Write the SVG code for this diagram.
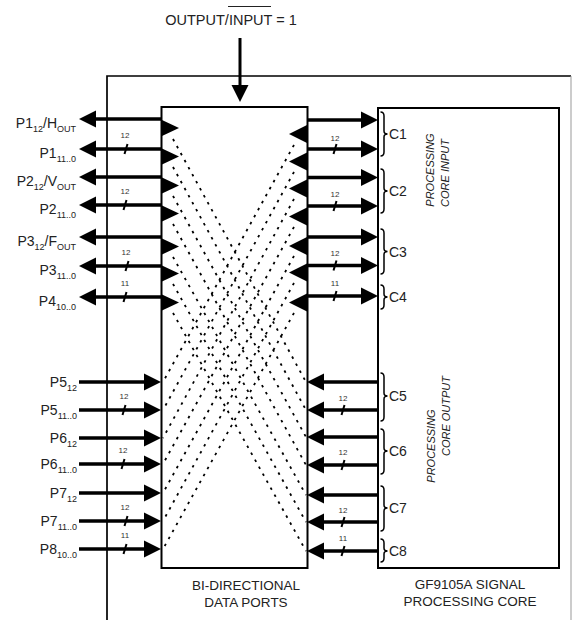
<svg xmlns="http://www.w3.org/2000/svg" width="572" height="620" viewBox="0 0 572 620">
<defs>
<style>
.ln{stroke:#000;stroke-width:3.5;fill:none}
.hd{fill:#000}
.box{fill:none;stroke:#000;stroke-width:2}
.fr{fill:none;stroke:#000;stroke-width:1.7}
.dot{stroke:#000;stroke-width:1.8;stroke-dasharray:2.5 5.5;fill:none}
.sl{stroke:#000;stroke-width:2}
.br{fill:none;stroke:#000;stroke-width:1.5}
.t{font-family:"Liberation Sans",Arial,Helvetica,sans-serif;font-size:14px;fill:#222}
.s{font-size:9px}
.bw{font-family:"Liberation Sans",Arial,Helvetica,sans-serif;font-size:8px;fill:#333;text-anchor:middle}
.v{font-family:"Liberation Sans",Arial,Helvetica,sans-serif;font-size:11px;font-style:italic;fill:#222;text-anchor:middle}
.c{text-anchor:middle}
.e{text-anchor:end}
</style>
</defs>
<rect width="572" height="620" fill="#fff"/>

<g id="frame">
<path class="fr" d="M107 620 V76 H571"/>
<line x1="571" y1="76" x2="571" y2="620" stroke="#999" stroke-width="1"/>
</g>

<g id="title">
<text class="t" x="231" y="25" style="font-size:14.5px" text-anchor="middle">OUTPUT/INPUT = 1</text>
<line x1="228" y1="6.5" x2="271" y2="6.5" stroke="#222" stroke-width="1"/>
</g>

<g id="ports">
<rect class="box" x="161.5" y="107" width="146" height="461"/>
<text class="t c" x="246" y="590" style="font-size:13.5px">BI-DIRECTIONAL</text>
<text class="t c" x="246" y="607" style="font-size:13.5px">DATA PORTS</text>
</g>

<g id="core">
<rect class="box" x="378" y="108" width="181" height="460"/>
<text class="t c" x="470" y="589" style="font-size:13.5px">GF9105A SIGNAL</text>
<text class="t c" x="470" y="606" style="font-size:13.5px">PROCESSING CORE</text>
<text class="v" transform="translate(434,170) rotate(-90)">PROCESSING</text>
<text class="v" transform="translate(448.5,173) rotate(-90)">CORE INPUT</text>
<text class="v" transform="translate(435,446) rotate(-90)">PROCESSING</text>
<text class="v" transform="translate(449.5,416) rotate(-90)">CORE OUTPUT</text>
</g>

<g id="braces">
<path class="br" d="M380.5 112 Q384 112 384 116 V131 Q384 134 387.5 134 Q384 134 384 137 V152 Q384 156 380.5 156"/>
<path class="br" d="M380.5 169 Q384 169 384 173 V188 Q384 191 387.5 191 Q384 191 384 194 V209 Q384 213 380.5 213"/>
<path class="br" d="M380.5 229 Q384 229 384 233 V248.5 Q384 251.5 387.5 251.5 Q384 251.5 384 254.5 V270 Q384 274 380.5 274"/>
<path class="br" d="M380.5 285 Q384 285 384 289 V294 Q384 297 387.5 297 Q384 297 384 300 V305 Q384 309 380.5 309"/>
<path class="br" d="M380.5 373 Q384 373 384 377 V393 Q384 396 387.5 396 Q384 396 384 399 V417 Q384 421 380.5 421"/>
<path class="br" d="M380.5 429 Q384 429 384 433 V448 Q384 451 387.5 451 Q384 451 384 454 V470 Q384 474 380.5 474"/>
<path class="br" d="M380.5 486 Q384 486 384 490 V505 Q384 508 387.5 508 Q384 508 384 511 V527 Q384 531 380.5 531"/>
<path class="br" d="M380.5 539 Q384 539 384 543 V548 Q384 551 387.5 551 Q384 551 384 554 V558 Q384 562 380.5 562"/>
<text class="t" x="389" y="139">C1</text>
<text class="t" x="389" y="196">C2</text>
<text class="t" x="389" y="256.5">C3</text>
<text class="t" x="389" y="302">C4</text>
<text class="t" x="389" y="401">C5</text>
<text class="t" x="389" y="456">C6</text>
<text class="t" x="389" y="513">C7</text>
<text class="t" x="389" y="556">C8</text>
</g>

<g id="labels">
<text class="t e" x="76" y="128">P1<tspan class="s" dy="4">12</tspan><tspan dy="-4">/H</tspan><tspan class="s" dy="4">OUT</tspan></text>
<text class="t e" x="76" y="157.5">P1<tspan class="s" dy="4.5">11..0</tspan></text>
<text class="t e" x="76" y="186">P2<tspan class="s" dy="4">12</tspan><tspan dy="-4">/V</tspan><tspan class="s" dy="4">OUT</tspan></text>
<text class="t e" x="76" y="213.5">P2<tspan class="s" dy="4.5">11..0</tspan></text>
<text class="t e" x="76" y="245.5">P3<tspan class="s" dy="4">12</tspan><tspan dy="-4">/F</tspan><tspan class="s" dy="4">OUT</tspan></text>
<text class="t e" x="76" y="274.5">P3<tspan class="s" dy="4.5">11..0</tspan></text>
<text class="t e" x="76" y="305.5">P4<tspan class="s" dy="4.5">10..0</tspan></text>
<text class="t e" x="77" y="386.5">P5<tspan class="s" dy="4.5">12</tspan></text>
<text class="t e" x="77" y="414.5">P5<tspan class="s" dy="4.5">11..0</tspan></text>
<text class="t e" x="77" y="442.5">P6<tspan class="s" dy="4.5">12</tspan></text>
<text class="t e" x="77" y="468.5">P6<tspan class="s" dy="4.5">11..0</tspan></text>
<text class="t e" x="77" y="497.5">P7<tspan class="s" dy="4.5">12</tspan></text>
<text class="t e" x="77" y="525.5">P7<tspan class="s" dy="4.5">11..0</tspan></text>
<text class="t e" x="77" y="553.5">P8<tspan class="s" dy="4.5">10..0</tspan></text>
</g>

<g id="connectors">
<line class="ln" x1="240" y1="38" x2="240" y2="87" style="stroke-width:3"/>
<polygon class="hd" points="240,102 231.5,85 248.5,85"/>

<g>
<line class="ln" x1="161" y1="119" x2="94" y2="119"/><polygon class="hd" points="79,119 96,110.5 96,127.5"/>
<line class="ln" x1="161" y1="149" x2="94" y2="149"/><polygon class="hd" points="79,149 96,140.5 96,157.5"/>
<line class="ln" x1="161" y1="177" x2="94" y2="177"/><polygon class="hd" points="79,177 96,168.5 96,185.5"/>
<line class="ln" x1="161" y1="205" x2="94" y2="205"/><polygon class="hd" points="79,205 96,196.5 96,213.5"/>
<line class="ln" x1="161" y1="237" x2="94" y2="237"/><polygon class="hd" points="79,237 96,228.5 96,245.5"/>
<line class="ln" x1="161" y1="266" x2="94" y2="266"/><polygon class="hd" points="79,266 96,257.5 96,274.5"/>
<line class="ln" x1="161" y1="297" x2="94" y2="297"/><polygon class="hd" points="79,297 96,288.5 96,305.5"/>
</g>
<g>
<line class="ln" x1="79" y1="382" x2="146" y2="382"/><polygon class="hd" points="161,382 144,373.5 144,390.5"/>
<line class="ln" x1="79" y1="410" x2="146" y2="410"/><polygon class="hd" points="161,410 144,401.5 144,418.5"/>
<line class="ln" x1="79" y1="438" x2="146" y2="438"/><polygon class="hd" points="161,438 144,429.5 144,446.5"/>
<line class="ln" x1="79" y1="464" x2="146" y2="464"/><polygon class="hd" points="161,464 144,455.5 144,472.5"/>
<line class="ln" x1="79" y1="493" x2="146" y2="493"/><polygon class="hd" points="161,493 144,484.5 144,501.5"/>
<line class="ln" x1="79" y1="521" x2="146" y2="521"/><polygon class="hd" points="161,521 144,512.5 144,529.5"/>
<line class="ln" x1="79" y1="549" x2="146" y2="549"/><polygon class="hd" points="161,549 144,540.5 144,557.5"/>
</g>
<g>
<line class="ln" x1="307" y1="120" x2="363" y2="120"/><polygon class="hd" points="378,120 361,111.5 361,128.5"/>
<line class="ln" x1="307" y1="149" x2="363" y2="149"/><polygon class="hd" points="378,149 361,140.5 361,157.5"/>
<line class="ln" x1="307" y1="177.5" x2="363" y2="177.5"/><polygon class="hd" points="378,177.5 361,169 361,186"/>
<line class="ln" x1="307" y1="206" x2="363" y2="206"/><polygon class="hd" points="378,206 361,197.5 361,214.5"/>
<line class="ln" x1="307" y1="237" x2="363" y2="237"/><polygon class="hd" points="378,237 361,228.5 361,245.5"/>
<line class="ln" x1="307" y1="265.5" x2="363" y2="265.5"/><polygon class="hd" points="378,265.5 361,257 361,274"/>
<line class="ln" x1="307" y1="296" x2="363" y2="296"/><polygon class="hd" points="378,296 361,287.5 361,304.5"/>
</g>
<g>
<line class="ln" x1="378" y1="382" x2="322" y2="382"/><polygon class="hd" points="307,382 324,373.5 324,390.5"/>
<line class="ln" x1="378" y1="410" x2="322" y2="410"/><polygon class="hd" points="307,410 324,401.5 324,418.5"/>
<line class="ln" x1="378" y1="437" x2="322" y2="437"/><polygon class="hd" points="307,437 324,428.5 324,445.5"/>
<line class="ln" x1="378" y1="465" x2="322" y2="465"/><polygon class="hd" points="307,465 324,456.5 324,473.5"/>
<line class="ln" x1="378" y1="495" x2="322" y2="495"/><polygon class="hd" points="307,495 324,486.5 324,503.5"/>
<line class="ln" x1="378" y1="522" x2="322" y2="522"/><polygon class="hd" points="307,522 324,513.5 324,530.5"/>
<line class="ln" x1="378" y1="551" x2="322" y2="551"/><polygon class="hd" points="307,551 324,542.5 324,559.5"/>
</g>

<g class="hd">
<polygon points="162,120 162,136 179,128"/>
<polygon points="162,148.5 162,164.5 179,156.5"/>
<polygon points="162,177.5 162,193.5 179,185.5"/>
<polygon points="162,205.5 162,221.5 179,213.5"/>
<polygon points="162,238.5 162,254.5 179,246.5"/>
<polygon points="162,265.5 162,281.5 179,273.5"/>
<polygon points="162,294.5 162,310.5 179,302.5"/>
<polygon points="307,125 307,143 289,134"/>
<polygon points="307,152.5 307,170.5 289,161.5"/>
<polygon points="307,179.5 307,197.5 289,188.5"/>
<polygon points="307,207.5 307,225.5 289,216.5"/>
<polygon points="307,237 307,255 289,246"/>
<polygon points="307,263.5 307,281.5 289,272.5"/>
<polygon points="307,293.5 307,311.5 289,302.5"/>
</g>

<g class="dot">
<line x1="173" y1="139" x2="306" y2="382"/>
<line x1="173" y1="167" x2="306" y2="410"/>
<line x1="173" y1="196" x2="306" y2="437"/>
<line x1="173" y1="224" x2="306" y2="465"/>
<line x1="173" y1="257" x2="306" y2="495"/>
<line x1="173" y1="284" x2="306" y2="522"/>
<line x1="173" y1="313" x2="306" y2="551"/>
<line x1="294" y1="145" x2="163" y2="382"/>
<line x1="294" y1="172" x2="163" y2="410"/>
<line x1="294" y1="199" x2="163" y2="438"/>
<line x1="294" y1="227" x2="163" y2="464"/>
<line x1="294" y1="256" x2="163" y2="493"/>
<line x1="294" y1="283" x2="163" y2="521"/>
<line x1="294" y1="313" x2="163" y2="549"/>
</g>

<g>
<line class="sl" x1="124.5" y1="154" x2="127.5" y2="144"/>
<line class="sl" x1="123.5" y1="210" x2="126.5" y2="200"/>
<line class="sl" x1="125.5" y1="271" x2="128.5" y2="261"/>
<line class="sl" x1="123.5" y1="302" x2="126.5" y2="292"/>
<line class="sl" x1="122.5" y1="415" x2="125.5" y2="405"/>
<line class="sl" x1="121.5" y1="469" x2="124.5" y2="459"/>
<line class="sl" x1="124.5" y1="526" x2="127.5" y2="516"/>
<line class="sl" x1="123.5" y1="554" x2="126.5" y2="544"/>
<line class="sl" x1="333.5" y1="154" x2="336.5" y2="144"/>
<line class="sl" x1="333.5" y1="211" x2="336.5" y2="201"/>
<line class="sl" x1="333.5" y1="270.5" x2="336.5" y2="260.5"/>
<line class="sl" x1="333.5" y1="301" x2="336.5" y2="291"/>
<line class="sl" x1="341.5" y1="415" x2="344.5" y2="405"/>
<line class="sl" x1="341.5" y1="470" x2="344.5" y2="460"/>
<line class="sl" x1="341.5" y1="527" x2="344.5" y2="517"/>
<line class="sl" x1="341.5" y1="556" x2="344.5" y2="546"/>
</g>
</g>

<g id="buswidths">
<text class="bw" x="125" y="138">12</text>
<text class="bw" x="125" y="194">12</text>
<text class="bw" x="126" y="255">12</text>
<text class="bw" x="125" y="286">11</text>
<text class="bw" x="124" y="399">12</text>
<text class="bw" x="123" y="453">12</text>
<text class="bw" x="125" y="510">12</text>
<text class="bw" x="125" y="538">11</text>
<text class="bw" x="335" y="141">12</text>
<text class="bw" x="335" y="197">12</text>
<text class="bw" x="335" y="256">12</text>
<text class="bw" x="335" y="286">11</text>
<text class="bw" x="343" y="401">12</text>
<text class="bw" x="343" y="455">12</text>
<text class="bw" x="343" y="513">12</text>
<text class="bw" x="343" y="541">11</text>
</g>
</svg>
